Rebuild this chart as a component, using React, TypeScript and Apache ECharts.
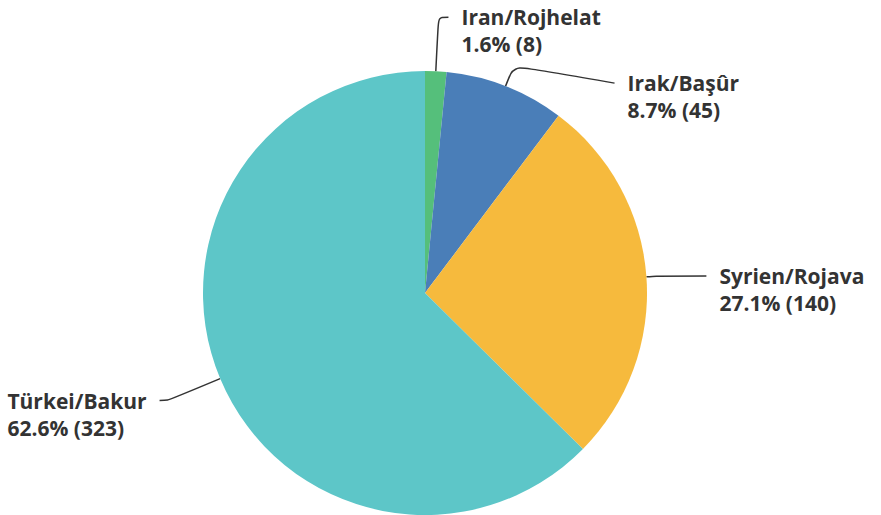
import React, { useEffect, useRef } from "react";
import * as echarts from "echarts";

const categories = ["Iran/Rojhelat", "Irak/Başûr", "Syrien/Rojava", "Türkei/Bakur"];
const counts = [8, 45, 140, 323];
const percents = ["1.6%", "8.7%", "27.1%", "62.6%"];
const colors = ["#55BF7B", "#4A7EB8", "#F6BA3D", "#5DC6C8"];

// label line lengths per slice (first, second segment)
const lineLen = [54, 22, 10, 57];
const lineLen2 = [10, 101, 50, 8];
const labelShiftY = [0, 17.5, 0, 0];

const FONT = "'Open Sans', 'Noto Sans', sans-serif";
const FS = 21;
const LH = 27;

export default function App() {
  const ref = useRef<HTMLDivElement>(null);
  useEffect(() => {
    if (!ref.current) return;
    const chart = echarts.init(ref.current, null, { renderer: "svg" });
    const textStyle = {
      fontFamily: FONT,
      fontWeight: "bold",
      fontSize: FS,
      lineHeight: LH,
      color: "#333333",
      align: "left",
    };
    chart.setOption({
      animation: false,
      backgroundColor: "#ffffff",
      series: [
        {
          type: "pie",
          center: [425, 293],
          radius: 222,
          startAngle: 90,
          clockwise: true,
          avoidLabelOverlap: false,
          label: {
            show: true,
            formatter: (p: any) =>
              `{a|${p.name}}\n{a|${percents[p.dataIndex]} (${p.value})}`,
            fontFamily: FONT,
            fontWeight: "bold",
            fontSize: FS,
            lineHeight: LH,
            color: "#333333",
            distanceToLabelLine: 13,
            rich: { a: textStyle },
          },
          labelLine: {
            show: true,
            smooth: 0.3,
            lineStyle: { color: "#333333", width: 1.5 },
          },
          labelLayout: (params: any) => {
            if (!params.labelLinePoints) return {};
            const s = labelShiftY[params.dataIndex] || 0;
            const pts = params.labelLinePoints.map((p: number[]) => [p[0], p[1]]);
            pts[2][1] += s;
            return { dy: s + LH / 2, labelLinePoints: pts };
          },
          data: categories.map((name, i) => ({
            name,
            value: counts[i],
            itemStyle: { color: colors[i] },
            labelLine: { length: lineLen[i], length2: lineLen2[i] },
          })),
        },
      ],
    });
    return () => chart.dispose();
  }, []);
  return (
    <div
      ref={ref}
      style={{ position: "fixed", left: 0, top: 0, width: 881, height: 515 }}
    />
  );
}
